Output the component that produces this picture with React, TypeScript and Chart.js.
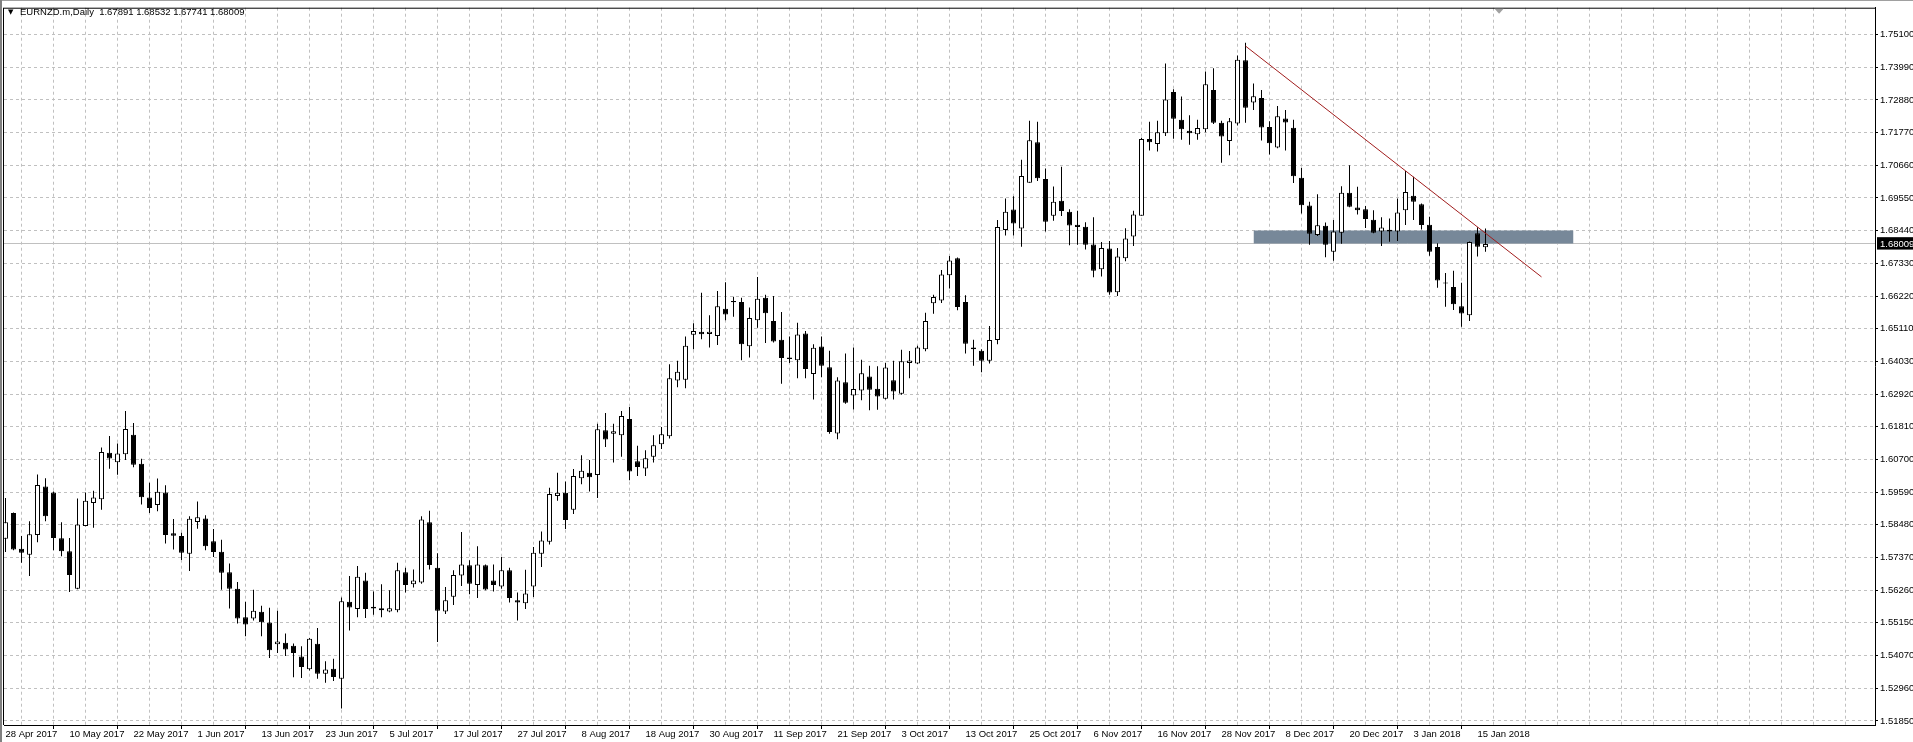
import React, { useEffect, useRef } from 'react';
import { Chart, registerables } from 'chart.js';

Chart.register(...registerables);

// ---------- data ----------
const symbolTitle = 'EURNZD.m,Daily';

// date labels shown every 8 bars (bar 0 = 28 Apr 2017)
const dateLabels = [
  '28 Apr 2017', '10 May 2017', '22 May 2017', '1 Jun 2017', '13 Jun 2017', '23 Jun 2017',
  '5 Jul 2017', '17 Jul 2017', '27 Jul 2017', '8 Aug 2017', '18 Aug 2017', '30 Aug 2017',
  '11 Sep 2017', '21 Sep 2017', '3 Oct 2017', '13 Oct 2017', '25 Oct 2017', '6 Nov 2017',
  '16 Nov 2017', '28 Nov 2017', '8 Dec 2017', '20 Dec 2017', '3 Jan 2018', '15 Jan 2018',
];
const barsPerLabel = 8;
const barsPerGrid = 4;

const priceLabels = [
  '1.75100', '1.73990', '1.72880', '1.71770', '1.70660', '1.69550', '1.68440', '1.67330',
  '1.66220', '1.65110', '1.64030', '1.62920', '1.61810', '1.60700', '1.59590', '1.58480',
  '1.57370', '1.56260', '1.55150', '1.54070', '1.52960', '1.51850',
];
const priceTop = 1.751;
const priceBottom = 1.5185;

const opens = [
  1.5802, 1.5889, 1.5768, 1.5748, 1.5815, 1.5979, 1.5959, 1.5804, 1.5760, 1.5633,
  1.5845, 1.5923, 1.5936, 1.6093, 1.6061, 1.6088, 1.6154, 1.6056, 1.5942, 1.5916,
  1.5959, 1.5821, 1.5811, 1.5751, 1.5859, 1.5871, 1.5794, 1.5758, 1.5689, 1.5633,
  1.5536, 1.5532, 1.5555, 1.5518, 1.5445, 1.5450, 1.5440, 1.5403, 1.5360, 1.5446,
  1.5345, 1.5362, 1.5328, 1.5589, 1.5564, 1.5661, 1.5572, 1.5567, 1.5556, 1.5560,
  1.5689, 1.5648, 1.5654, 1.5858, 1.5704, 1.5556, 1.5606, 1.5678, 1.5712, 1.5645,
  1.5712, 1.5661, 1.5640, 1.5695, 1.5594, 1.5584, 1.5640, 1.5751, 1.5792, 1.5947,
  1.5958, 1.5900, 1.6007, 1.6026, 1.6018, 1.6170, 1.6158, 1.6153, 1.6208, 1.6065,
  1.6040, 1.6080, 1.6122, 1.6149, 1.6338, 1.6341, 1.6493, 1.6503, 1.6496, 1.6489,
  1.6581, 1.6607, 1.6604, 1.6454, 1.6542, 1.6618, 1.6540, 1.6476, 1.6416, 1.6407,
  1.6497, 1.6360, 1.6453, 1.6383, 1.6159, 1.6332, 1.6287, 1.6304, 1.6352, 1.6310,
  1.6276, 1.6339, 1.6293, 1.6397, 1.6396, 1.6444, 1.6600, 1.6609, 1.6695, 1.6752,
  1.6604, 1.6450, 1.6439, 1.6405, 1.6475, 1.6848, 1.6917, 1.6853, 1.7008, 1.7145,
  1.7021, 1.6896, 1.6947, 1.6910, 1.6866, 1.6859, 1.6799, 1.6715, 1.6785, 1.6637,
  1.6752, 1.6826, 1.6896, 1.7156, 1.7139, 1.7176, 1.7315, 1.7221, 1.7184, 1.7172,
  1.7189, 1.7322, 1.7211, 1.7149, 1.7209, 1.7423, 1.7280, 1.7295, 1.7197, 1.7127,
  1.7226, 1.7194, 1.7025, 1.6931, 1.6831, 1.6862, 1.6774, 1.6839, 1.6974, 1.6924,
  1.6918, 1.6883, 1.6843, 1.6843, 1.6843, 1.6915, 1.6964, 1.6935, 1.6866, 1.6790,
  1.6670, 1.6655, 1.6590, 1.6559, 1.6837, 1.67891,
];
const highs = [
  1.5940, 1.5891, 1.5811, 1.5861, 1.6020, 1.6007, 1.5962, 1.5858, 1.5805, 1.5938,
  1.5959, 1.5965, 1.6111, 1.6150, 1.6125, 1.6235, 1.6194, 1.6073, 1.5992, 1.6006,
  1.5983, 1.5869, 1.5822, 1.5878, 1.5928, 1.5882, 1.5835, 1.5799, 1.5718, 1.5656,
  1.5589, 1.5629, 1.5575, 1.5568, 1.5558, 1.5481, 1.5447, 1.5438, 1.5466, 1.5500,
  1.5387, 1.5396, 1.5603, 1.5676, 1.5710, 1.5687, 1.5623, 1.5648, 1.5628, 1.5721,
  1.5704, 1.5698, 1.5878, 1.5897, 1.5753, 1.5639, 1.5695, 1.5825, 1.5729, 1.5777,
  1.5715, 1.5715, 1.5740, 1.5704, 1.5620, 1.5697, 1.5774, 1.5827, 1.5975, 1.6026,
  1.5996, 1.6038, 1.6085, 1.6069, 1.6192, 1.6228, 1.6192, 1.6235, 1.6248, 1.6117,
  1.6102, 1.6153, 1.6181, 1.6393, 1.6405, 1.6487, 1.6532, 1.6635, 1.6559, 1.6641,
  1.6671, 1.6622, 1.6618, 1.6585, 1.6689, 1.6629, 1.6624, 1.6570, 1.6487, 1.6534,
  1.6506, 1.6461, 1.6487, 1.6439, 1.6349, 1.6430, 1.6450, 1.6408, 1.6388, 1.6386,
  1.6397, 1.6405, 1.6442, 1.6438, 1.6456, 1.6568, 1.6629, 1.6712, 1.6760, 1.6755,
  1.6627, 1.6476, 1.6444, 1.6523, 1.6882, 1.6955, 1.6962, 1.7086, 1.7218, 1.7215,
  1.7056, 1.6995, 1.7062, 1.6918, 1.6913, 1.6874, 1.6891, 1.6807, 1.6811, 1.6787,
  1.6854, 1.6913, 1.7160, 1.7215, 1.7218, 1.7412, 1.7325, 1.7300, 1.7237, 1.7221,
  1.7385, 1.7396, 1.7218, 1.7227, 1.7439, 1.7482, 1.7344, 1.7322, 1.7216, 1.7268,
  1.7254, 1.7221, 1.7059, 1.6944, 1.6969, 1.6873, 1.6882, 1.6996, 1.7067, 1.6994,
  1.6929, 1.6915, 1.6891, 1.6887, 1.6955, 1.7048, 1.7028, 1.6938, 1.6893, 1.6803,
  1.6702, 1.6710, 1.6669, 1.6809, 1.6857, 1.68532,
];
const lows = [
  1.5757, 1.5763, 1.5721, 1.5676, 1.5790, 1.5861, 1.5763, 1.5743, 1.5622, 1.5631,
  1.5844, 1.5839, 1.5900, 1.6039, 1.6019, 1.6069, 1.6044, 1.5918, 1.5889, 1.5895,
  1.5786, 1.5766, 1.5730, 1.5693, 1.5836, 1.5763, 1.5740, 1.5629, 1.5566, 1.5515,
  1.5472, 1.5525, 1.5472, 1.5398, 1.5415, 1.5405, 1.5333, 1.5330, 1.5356, 1.5328,
  1.5314, 1.5320, 1.5227, 1.5491, 1.5536, 1.5534, 1.5545, 1.5536, 1.5553, 1.5553,
  1.5620, 1.5637, 1.5650, 1.5698, 1.5452, 1.5547, 1.5578, 1.5642, 1.5614, 1.5601,
  1.5628, 1.5623, 1.5633, 1.5586, 1.5525, 1.5564, 1.5605, 1.5706, 1.5783, 1.5931,
  1.5835, 1.5886, 1.5987, 1.5962, 1.5940, 1.6113, 1.6060, 1.6080, 1.6000, 1.6015,
  1.6015, 1.6060, 1.6106, 1.6142, 1.6315, 1.6312, 1.6444, 1.6478, 1.6450, 1.6458,
  1.6542, 1.6554, 1.6407, 1.6416, 1.6517, 1.6465, 1.6467, 1.6327, 1.6397, 1.6346,
  1.6346, 1.6274, 1.6349, 1.6158, 1.6139, 1.6259, 1.6240, 1.6271, 1.6237, 1.6239,
  1.6274, 1.6274, 1.6290, 1.6346, 1.6394, 1.6437, 1.6564, 1.6601, 1.6650, 1.6576,
  1.6430, 1.6388, 1.6366, 1.6396, 1.6461, 1.6829, 1.6829, 1.6791, 1.7008, 1.7014,
  1.6843, 1.6879, 1.6895, 1.6796, 1.6798, 1.6782, 1.6688, 1.6690, 1.6629, 1.6624,
  1.6742, 1.6794, 1.6896, 1.7117, 1.7114, 1.7166, 1.7157, 1.7154, 1.7137, 1.7154,
  1.7179, 1.7207, 1.7076, 1.7101, 1.7202, 1.7211, 1.7254, 1.7151, 1.7104, 1.7125,
  1.7117, 1.7007, 1.6904, 1.6798, 1.6828, 1.6756, 1.6744, 1.6801, 1.6925, 1.6900,
  1.6855, 1.6837, 1.6794, 1.6808, 1.6811, 1.6865, 1.6882, 1.6850, 1.6761, 1.6652,
  1.6588, 1.6577, 1.6520, 1.6540, 1.6758, 1.67741,
];
const closes = [
  1.5858, 1.5766, 1.5755, 1.5817, 1.5984, 1.5878, 1.5805, 1.5760, 1.5679, 1.5850,
  1.5931, 1.5942, 1.6096, 1.6074, 1.6091, 1.6174, 1.6053, 1.5943, 1.5906, 1.5961,
  1.5815, 1.5812, 1.5755, 1.5870, 1.5875, 1.5777, 1.5757, 1.5687, 1.5633, 1.5532,
  1.5512, 1.5558, 1.5519, 1.5424, 1.5454, 1.5427, 1.5415, 1.5368, 1.5463, 1.5345,
  1.5359, 1.5334, 1.5590, 1.5569, 1.5673, 1.5564, 1.5566, 1.5560, 1.5567, 1.5695,
  1.5645, 1.5661, 1.5867, 1.5713, 1.5558, 1.5594, 1.5679, 1.5715, 1.5650, 1.5715,
  1.5630, 1.5645, 1.5695, 1.5601, 1.5586, 1.5617, 1.5755, 1.5796, 1.5954, 1.5958,
  1.5866, 1.6015, 1.6032, 1.6010, 1.6173, 1.6138, 1.6166, 1.6218, 1.6030, 1.6045,
  1.6075, 1.6119, 1.6156, 1.6346, 1.6368, 1.6456, 1.6506, 1.6495, 1.6503, 1.6590,
  1.6562, 1.6603, 1.6461, 1.6550, 1.6615, 1.6566, 1.6470, 1.6414, 1.6411, 1.6494,
  1.6377, 1.6449, 1.6388, 1.6164, 1.6338, 1.6263, 1.6309, 1.6363, 1.6307, 1.6284,
  1.6382, 1.6301, 1.6403, 1.6406, 1.6450, 1.6540, 1.6621, 1.6697, 1.6745, 1.6587,
  1.6463, 1.6444, 1.6405, 1.6475, 1.6858, 1.6910, 1.6870, 1.7031, 1.7152, 1.7023,
  1.6876, 1.6944, 1.6912, 1.6863, 1.6858, 1.6798, 1.6710, 1.6787, 1.6636, 1.6758,
  1.6819, 1.6900, 1.7156, 1.7145, 1.7179, 1.7290, 1.7225, 1.7189, 1.7176, 1.7193,
  1.7342, 1.7211, 1.7165, 1.7216, 1.7425, 1.7262, 1.7301, 1.7195, 1.7142, 1.7233,
  1.7212, 1.7030, 1.6932, 1.6835, 1.6864, 1.6798, 1.6843, 1.6974, 1.6927, 1.6915,
  1.6885, 1.6839, 1.6856, 1.6849, 1.6907, 1.6977, 1.6944, 1.6865, 1.6774, 1.6677,
  1.6667, 1.6596, 1.6565, 1.6807, 1.6791, 1.68009,
];

const bidPrice = 1.68009;

// trend line (bar index, price)
const trendBars = [155, 192];
const trendPrices = [1.7471, 1.6689];

// support zone rectangle
const zoneBars = [156, 196];
const zoneHigh = 1.6846;
const zoneLow = 1.6802;

// visible window
const xMin = -0.1875;
const xMax = 233.6875;
const yMin = 1.51712;
const yMax = 1.76009;
const shiftMarkerBar = 186.7;

// ---------- styles ----------
const FONT = 'Liberation Sans';
const GRID = '#c0c0c0';

const framePlugin = {
  id: 'mtFrame',
  afterDraw(chart: any) {
    const { ctx, chartArea: a } = chart;
    ctx.save();
    ctx.fillStyle = '#a0a0a0';
    ctx.fillRect(0, 0, chart.width, 1);
    ctx.fillStyle = '#808080';
    ctx.fillRect(0, 0, 2, chart.height);
    ctx.fillStyle = '#000000';
    ctx.fillRect(a.left, a.top, a.right - a.left, 1);
    ctx.fillRect(a.left - 1, a.top, 1, a.bottom - a.top);
    const sx = chart.scales.x.getPixelForValue(shiftMarkerBar);
    ctx.fillStyle = '#a0a0a0';
    ctx.beginPath();
    ctx.moveTo(sx - 4.5, a.top + 1);
    ctx.lineTo(sx + 4.5, a.top + 1);
    ctx.lineTo(sx, a.top + 6);
    ctx.closePath();
    ctx.fill();
    ctx.restore();
  },
};

export default function App() {
  const ref = useRef<HTMLCanvasElement | null>(null);

  useEffect(() => {
    if (!ref.current) return;
    const idx = opens.map((_, i) => i);
    const bodyData = idx.map((i) => ({ x: i, y: [opens[i], closes[i]] }));
    const wickData = idx.map((i) => ({ x: i, y: [lows[i], highs[i]] }));
    const bodyFill = idx.map((i) => (closes[i] >= opens[i] ? '#ffffff' : '#000000'));
    const priceStep = (priceTop - priceBottom) / (priceLabels.length - 1);

    const chart = new Chart(ref.current, {
      type: 'bar',
      data: {
        datasets: [
          {
            type: 'line',
            data: [
              { x: zoneBars[0], y: zoneHigh },
              { x: zoneBars[1], y: zoneHigh },
            ],
            fill: { value: zoneLow },
            backgroundColor: '#778899',
            borderColor: 'rgba(0,0,0,0)',
            borderWidth: 0,
            pointRadius: 0,
            order: 4,
          } as any,
          {
            type: 'bar',
            data: wickData,
            backgroundColor: '#000000',
            borderWidth: 0,
            barThickness: 1,
            grouped: false,
            inflateAmount: 0,
            order: 3,
          } as any,
          {
            type: 'bar',
            data: bodyData,
            backgroundColor: bodyFill,
            borderColor: '#000000',
            borderWidth: 1,
            borderSkipped: false,
            barThickness: 5,
            grouped: false,
            inflateAmount: 0,
            order: 2,
          } as any,
          {
            type: 'line',
            data: [
              { x: trendBars[0], y: trendPrices[0] },
              { x: trendBars[1], y: trendPrices[1] },
            ],
            borderColor: '#a11d1d',
            borderWidth: 1,
            pointRadius: 0,
            fill: false,
            order: 1,
          } as any,
        ],
      },
      options: {
        animation: false,
        responsive: false,
        devicePixelRatio: 1,
        events: [],
        layout: { padding: { left: 4, top: 3, right: 0, bottom: 0 } },
        plugins: { legend: { display: false }, tooltip: { enabled: false }, title: { display: false } },
        scales: {
          x: {
            type: 'linear',
            min: xMin,
            max: xMax,
            offset: false,
            bounds: 'data',
            afterBuildTicks: (scale: any) => {
              const t: any[] = [];
              for (let v = 0; v <= xMax; v += barsPerGrid) t.push({ value: v });
              scale.ticks = t;
            },
            afterFit: (scale: any) => {
              scale.height = 17;
            },
            ticks: {
              autoSkip: false,
              maxRotation: 0,
              minRotation: 0,
              align: 'start',
              padding: 0,
              color: '#000000',
              font: { family: FONT, size: 9.5 },
              callback: (value: any) => {
                const k = Number(value) / barsPerLabel;
                return Number.isInteger(k) && k < dateLabels.length ? dateLabels[k] : '';
              },
            },
            grid: {
              color: GRID,
              lineWidth: 1,
              drawTicks: true,
              tickLength: 4,
              tickWidth: 1,
              tickColor: (c: any) => {
                const v = c.tick ? c.tick.value : -1;
                const k = v / barsPerLabel;
                return Number.isInteger(k) && k < dateLabels.length ? '#000000' : 'rgba(0,0,0,0)';
              },
            },
            border: { display: true, color: '#000000', width: 1, dash: [3, 3] },
          },
          y: {
            type: 'linear',
            position: 'right',
            min: yMin,
            max: yMax,
            bounds: 'data',
            afterBuildTicks: (scale: any) => {
              const t = priceLabels.map((_, k) => ({ value: priceTop - k * priceStep }));
              t.push({ value: bidPrice });
              t.sort((a, b) => a.value - b.value);
              scale.ticks = t;
            },
            afterFit: (scale: any) => {
              scale.width = 38;
            },
            ticks: {
              autoSkip: false,
              padding: 2,
              font: { family: FONT, size: 9.5 },
              color: (c: any) => (c.tick && Math.abs(c.tick.value - bidPrice) < 1e-9 ? '#ffffff' : '#000000'),
              showLabelBackdrop: (c: any) => !!(c.tick && Math.abs(c.tick.value - bidPrice) < 1e-9),
              backdropColor: '#000000',
              backdropPadding: { top: 1, bottom: 0, left: 3, right: 8 },
              callback: (value: any) => {
                const v = Number(value);
                if (Math.abs(v - bidPrice) < 1e-9) return bidPrice.toFixed(5);
                const k = Math.round((priceTop - v) / priceStep);
                return priceLabels[k] ?? '';
              },
            },
            grid: {
              color: GRID,
              lineWidth: 1,
              drawTicks: true,
              tickLength: 3,
              tickColor: (c: any) =>
                c.tick && Math.abs(c.tick.value - bidPrice) < 1e-9 ? 'rgba(0,0,0,0)' : '#000000',
            },
            border: {
              display: true,
              color: '#000000',
              width: 1,
              dash: (c: any) => (c.tick && Math.abs(c.tick.value - bidPrice) < 1e-9 ? [] : [3, 3]),
            },
          },
        },
      } as any,
      plugins: [framePlugin],
    });
    return () => chart.destroy();
  }, []);

  const last = opens.length - 1;
  const ohlcText = [opens[last], highs[last], lows[last], closes[last]].map((v) => v.toFixed(5)).join(' ');

  return (
    <div style={{ position: 'fixed', left: 0, top: 0, width: 1913, height: 742, background: '#ffffff', overflow: 'hidden' }}>
      <canvas ref={ref} width={1913} height={742} style={{ display: 'block', width: 1913, height: 742 }} />
      <div
        style={{
          position: 'absolute',
          left: 8,
          top: 6,
          fontFamily: 'DejaVu Sans',
          fontSize: 7,
          lineHeight: '12px',
          color: '#000000',
        }}
      >
        ▼
      </div>
      <div
        style={{
          position: 'absolute',
          left: 20,
          top: 6,
          fontFamily: FONT,
          fontSize: 9.5,
          lineHeight: '12px',
          color: '#000000',
          whiteSpace: 'pre',
        }}
      >
        {symbolTitle + '  ' + ohlcText}
      </div>
    </div>
  );
}
